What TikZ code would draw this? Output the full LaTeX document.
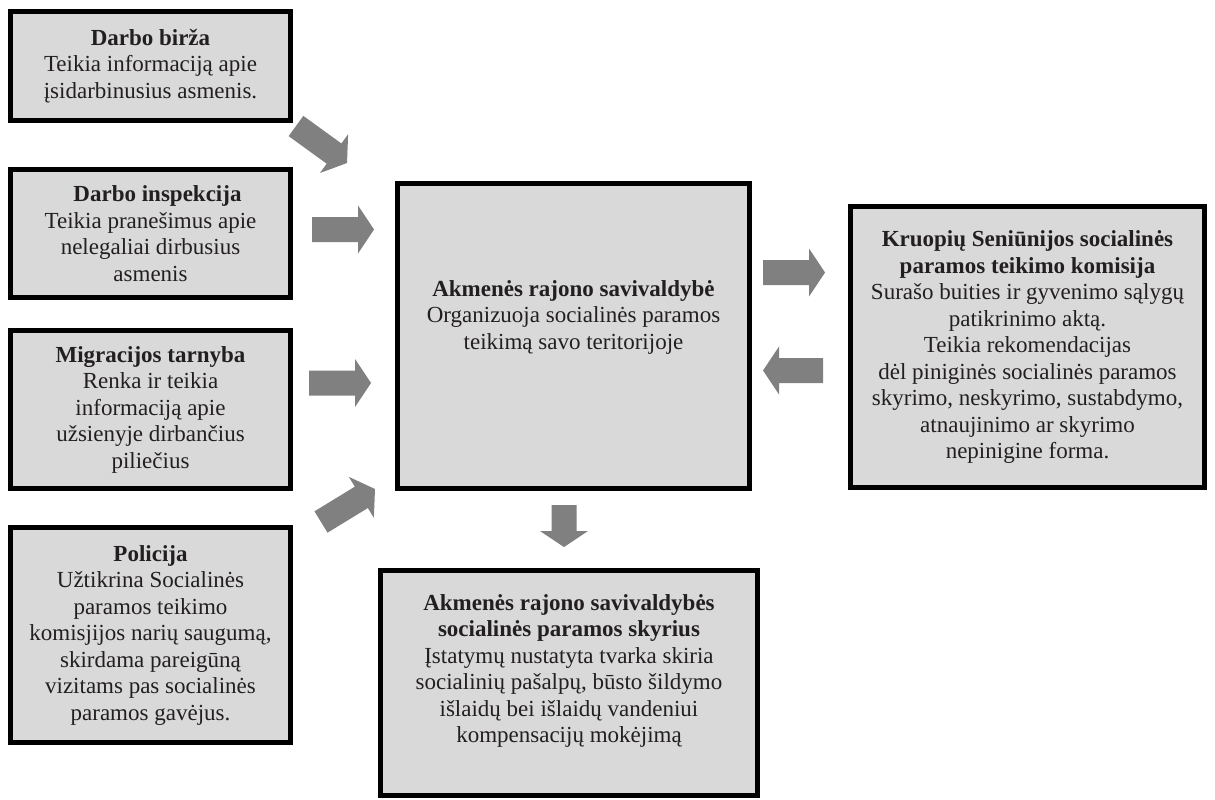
\documentclass[tikz,border=0pt]{standalone}
\usepackage{fontspec}
\setmainfont{Liberation Serif}
\usetikzlibrary{calc}
\definecolor{boxgray}{HTML}{D9D9D9}
\definecolor{arrowgray}{HTML}{808080}
\definecolor{txtcol}{HTML}{231F20}
\tikzset{
  box/.style={draw=black, line width=5pt, fill=boxgray, inner sep=0pt, align=center, text=txtcol, font=\fontsize{23}{26.5}\selectfont},
  boxtext/.style={inner sep=0pt, align=center, text=txtcol, font=\fontsize{23}{26.5}\selectfont},
  blockfill/.style={fill=arrowgray}
}
\newcommand\blockarrow[2]{%
  \coordinate (#1#2h) at ($(#2)!16pt!(#1)$);
  \fill[blockfill] ($(#1)!12.5pt!90:(#2)$) -- ($(#1#2h)!12.5pt!90:(#2)$) -- ($(#1#2h)!24pt!90:(#2)$) -- (#2)
    -- ($(#1#2h)!24pt!-90:(#2)$) -- ($(#1#2h)!12.5pt!-90:(#2)$) -- ($(#1)!12.5pt!-90:(#2)$) -- cycle;}
\begin{document}
\begin{tikzpicture}[x=1pt,y=-1pt]
\useasboundingbox (0,0) rectangle (1215,800);
\fill[white] (0,0) rectangle (1215,800);

\node[box, minimum width=280pt, minimum height=109pt] (birza) at (150.5,66)
  {\textbf{Darbo birža}\\Teikia informaciją apie\\įsidarbinusius asmenis.};
\node[box, minimum width=280pt, minimum height=128pt] (inspekcija) at (150.5,233.5)
  {\hspace*{14pt}\textbf{Darbo inspekcija}\\Teikia pranešimus apie\\nelegaliai dirbusius\\asmenis};
\node[box, minimum width=280pt, minimum height=158pt] (migracija) at (150.5,409.5)
  {\textbf{Migracijos tarnyba}\\Renka ir teikia\\informaciją apie\\užsienyje dirbančius\\piliečius};
\node[box, minimum width=280pt, minimum height=215pt] (policija) at (150.5,635)
  {\textbf{Policija}\\Užtikrina Socialinės\\paramos teikimo\\komisjijos narių saugumą,\\skirdama pareigūną\\vizitams pas socialinės\\paramos gavėjus.};

\node[box, minimum width=352pt, minimum height=305pt] (centre) at (573.5,336) {};
\node[boxtext] (centretext) at (573.5,317)
  {\textbf{Akmenės rajono savivaldybė}\\Organizuoja socialinės paramos\\teikimą savo teritorijoje};

\node[box, minimum width=354pt, minimum height=281pt] (komisija) at (1027.5,347)
  {\textbf{Kruopių Seniūnijos socialinės}\\\textbf{paramos teikimo komisija}\\Surašo buities ir gyvenimo sąlygų\\patikrinimo aktą.\\Teikia rekomendacijas\\dėl piniginės socialinės paramos\\skyrimo, neskyrimo, sustabdymo,\\atnaujinimo ar skyrimo\\nepinigine forma.};

\node[box, minimum width=377pt, minimum height=225pt] (skyrius) at (569,683) {};
\node[boxtext] (skyriustext) at (569,671)
  {\textbf{Akmenės rajono savivaldybės}\\\textbf{socialinės paramos skyrius}\\Įstatymų nustatyta tvarka skiria\\socialinių pašalpų, būsto šildymo\\išlaidų bei išlaidų vandeniui\\kompensacijų mokėjimą};

\coordinate (a1s) at (296,126);   \coordinate (a1t) at (347,163);
\coordinate (a2s) at (312,229.5); \coordinate (a2t) at (374,229.5);
\coordinate (a3s) at (309,383);   \coordinate (a3t) at (371,383);
\coordinate (a4s) at (321,522);   \coordinate (a4t) at (375,489);
\coordinate (a5s) at (763,272.5); \coordinate (a5t) at (825,272.5);
\coordinate (a6s) at (823,370.5); \coordinate (a6t) at (763,370.5);
\coordinate (a7s) at (564,505);   \coordinate (a7t) at (564,547);

\blockarrow{a1s}{a1t}
\blockarrow{a2s}{a2t}
\blockarrow{a3s}{a3t}
\blockarrow{a4s}{a4t}
\blockarrow{a5s}{a5t}
\blockarrow{a6s}{a6t}
\blockarrow{a7s}{a7t}
\end{tikzpicture}
\end{document}
